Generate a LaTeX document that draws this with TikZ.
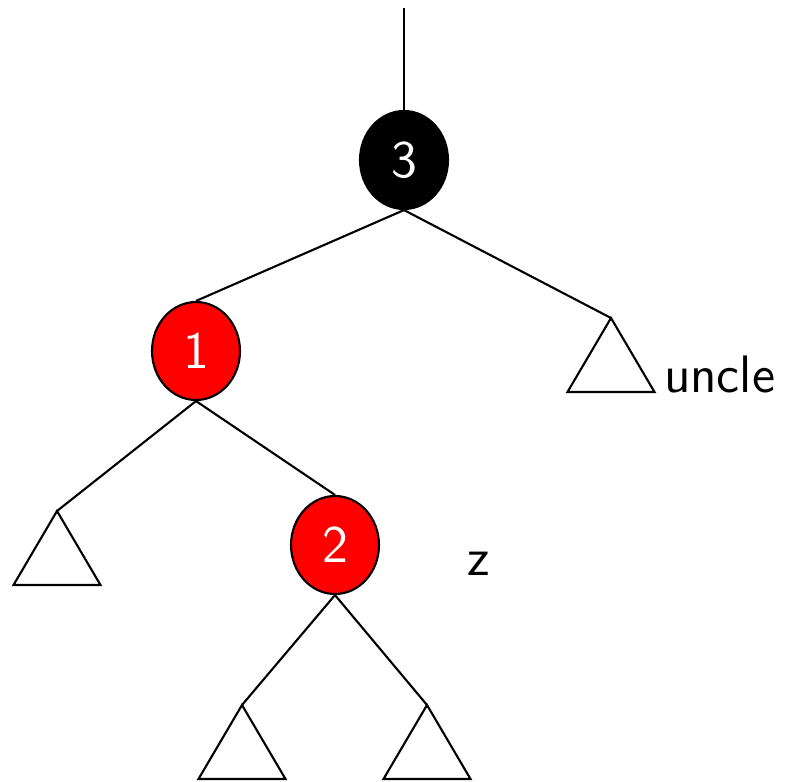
\documentclass[tikz,border=0pt]{standalone}
\usetikzlibrary{shapes.geometric}
\tikzset{
  rbnode/.style={ellipse,draw=black,line width=0.6pt,minimum width=0.88cm,
    minimum height=0.98cm,inner sep=0pt,text=white,font=\fontsize{15}{18}\sffamily},
  redn/.style={rbnode,fill=red},
  blackn/.style={rbnode,fill=black},
  lbl/.style={anchor=base west,inner sep=0pt,font=\fontsize{15}{18}\sffamily}
}
\begin{document}
\begin{tikzpicture}[line width=0.6pt]
  \useasboundingbox (0,0) rectangle (7.85,7.81);
  \coordinate (top) at (4.04,7.73);
  \node[blackn] (n3) at (4.04,6.21) {3};
  \node[redn] (n1) at (1.96,4.30) {1};
  \node[redn] (n2) at (3.35,2.36) {2};
  % subtree tops
  \coordinate (tU) at (6.11,4.63);
  \coordinate (tL) at (0.57,2.70);
  \coordinate (tA) at (2.42,0.76);
  \coordinate (tB) at (4.27,0.76);
  \draw (top) -- (n3.north);
  \draw (n3.south) -- (n1.north);
  \draw (n3.south) -- (tU);
  \draw (n1.south) -- (tL);
  \draw (n1.south) -- (n2.north);
  \draw (n2.south) -- (tA);
  \draw (n2.south) -- (tB);
  \foreach \t in {tU,tL,tA,tB}
    \draw[line join=miter] (\t) -- ++(-0.435,-0.74) -- ++(0.87,0) -- cycle;
  \node[lbl] (uncle) at (6.63,3.89) {uncle};
  \node[lbl] (z) at (4.66,2.06) {z};
\end{tikzpicture}
\end{document}
